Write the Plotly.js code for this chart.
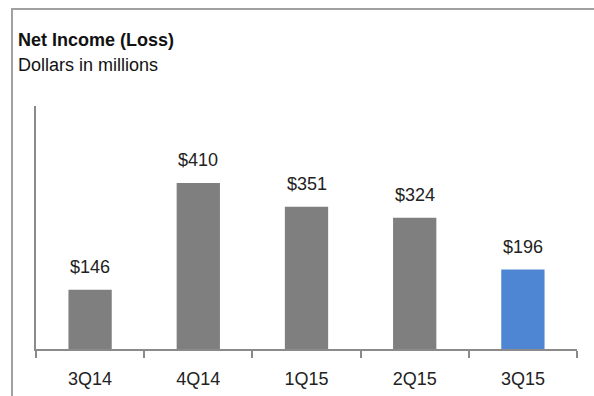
<!DOCTYPE html>
<html>
<head>
<meta charset="utf-8">
<script src="https://cdn.plot.ly/plotly-3.0.1.min.js"></script>
<style>html,body{margin:0;padding:0;background:#fff;}#chart{width:594px;height:396px;}</style>
</head>
<body>
<div id="chart"></div>
<script>
const categories = ["3Q14", "4Q14", "1Q15", "2Q15", "3Q15"];
const netIncome = [146, 410, 351, 324, 196];
const valueLabels = ["$146", "$410", "$351", "$324", "$196"];
const barColors = ["#7f7f7f", "#7f7f7f", "#7f7f7f", "#7f7f7f", "#4f86d3"];

const font = "Liberation Sans, Arial, sans-serif";
const L = 36, R = 577, T = 106, B = 349;
const px = x => (x - L) / (R - L);
const py = y => (B - y) / (B - T);

const trace = {
  type: "bar",
  x: categories,
  y: netIncome,
  marker: {color: barColors},
  hoverinfo: "skip"
};

const valueAnnotations = categories.map((c, i) => ({
  xref: "x", yref: "y", x: c, y: netIncome[i],
  xanchor: "center", yanchor: "bottom", yshift: 11,
  text: valueLabels[i], showarrow: false,
  font: {family: font, size: 18, color: "#222"}
}));

const layout = {
  width: 594, height: 396,
  margin: {l: L, r: 594 - R, t: T, b: 396 - B, pad: 0},
  paper_bgcolor: "#fff", plot_bgcolor: "#fff",
  showlegend: false,
  bargap: 0.6,
  xaxis: {
    type: "category",
    showline: true, linecolor: "#8a8a8a", linewidth: 2,
    ticks: "outside", tickson: "boundaries", ticklen: 7, tickwidth: 2, tickcolor: "#8a8a8a",
    ticklabelstandoff: 12,
    tickfont: {family: font, size: 18, color: "#222"},
    showgrid: false, zeroline: false, fixedrange: true
  },
  yaxis: {
    range: [0, 600],
    showline: true, linecolor: "#8a8a8a", linewidth: 2,
    showticklabels: false, ticks: "", showgrid: false, zeroline: false, fixedrange: true
  },
  annotations: [
    {xref: "paper", yref: "paper", x: px(16), y: py(40), xanchor: "left", yanchor: "middle",
     text: "<b>Net Income (Loss)</b>", showarrow: false, font: {family: font, size: 18, color: "#111"}},
    {xref: "paper", yref: "paper", x: px(16), y: py(65), xanchor: "left", yanchor: "middle",
     text: "Dollars in millions", showarrow: false, font: {family: font, size: 18, color: "#111"}}
  ].concat(valueAnnotations),
  shapes: [
    {type: "line", xref: "paper", yref: "paper", x0: px(11), x1: px(600), y0: py(9), y1: py(9),
     line: {color: "#a0a0a0", width: 2}},
    {type: "line", xref: "paper", yref: "paper", x0: px(12), x1: px(12), y0: py(9), y1: py(400),
     line: {color: "#a0a0a0", width: 2}}
  ]
};

Plotly.newPlot("chart", [trace], layout, {displayModeBar: false, staticPlot: true});
</script>
</body>
</html>
